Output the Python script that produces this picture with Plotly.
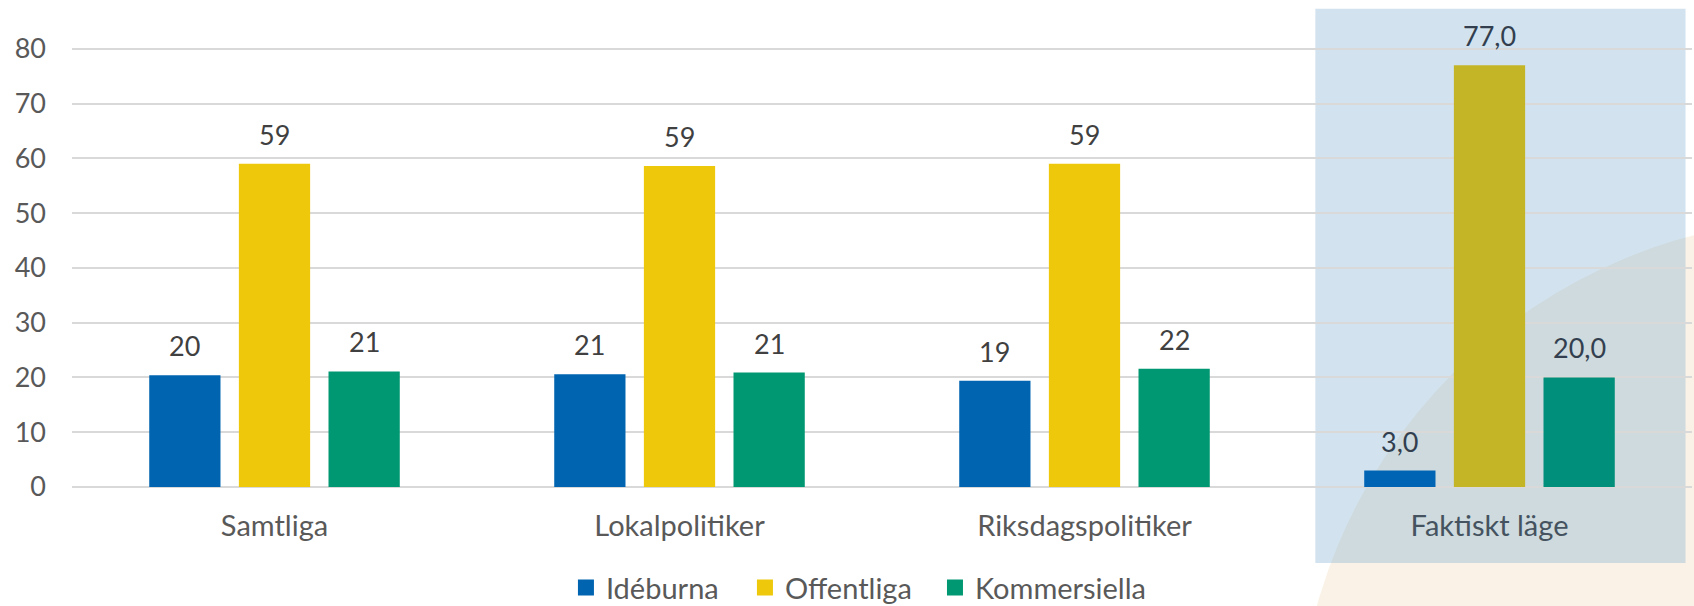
import plotly.graph_objs as go

# categories and series
categories = ['Samtliga', 'Lokalpolitiker', 'Riksdagspolitiker', 'Faktiskt läge']
ideburna = [20.4, 20.6, 19.4, 3.0]
offentliga = [59.0, 58.6, 59.0, 77.0]
kommersiella = [21.1, 20.9, 21.6, 20.0]
label_decimals = [0, 0, 0, 1]
y_ticks = [0, 10, 20, 30, 40, 50, 60, 70, 80]

series = [
	('Idéburna', ideburna, '#0064B0', '#0064B4'),
	('Offentliga', offentliga, '#EEC80A', '#C4B526'),
	('Kommersiella', kommersiella, '#009872', '#008F7A'),
]

font = 'Lato, "Open Sans", sans-serif'
slot_px = 89.6
legend_ids = ['legend', 'legend2', 'legend3']
legend_x = [0.3049, 0.4154, 0.5327]

data = []
annotations = []
for i, (name, values, color, shaded) in enumerate(series):
	colors = [color] * (len(categories) - 1) + [shaded]
	data.append(go.Bar(
		x = categories,
		y = values,
		name = name,
		showlegend = False,
		marker = dict(color = colors, line = dict(width = 0)),
		hoverinfo = 'x+y+name',
	))
	# legend entry only (bigger square than the bar legend symbol)
	data.append(go.Scatter(
		x = [None], y = [None], name = name, mode = 'markers',
		legend = legend_ids[i],
		marker = dict(symbol = 'square', size = 16, color = color, line = dict(width = 0)),
	))
	for j, v in enumerate(values):
		txt = ('%.*f' % (label_decimals[j], v)).replace('.', ',')
		annotations.append(dict(
			x = categories[j], y = v, xref = 'x', yref = 'y',
			text = txt, showarrow = False,
			xshift = (i - 1) * slot_px, yshift = 29.5, yanchor = 'middle',
			font = dict(family = font, size = 27,
				color = '#333F4F' if j == len(categories) - 1 else '#404040'),
		))

tick_text = [c if c != 'Faktiskt läge' else '<span style="color:#45525F">%s</span>' % c
	for c in categories]

shapes = [
	# beige circle in the corner
	dict(type = 'circle', xref = 'paper', yref = 'paper',
		x0 = 0.7562, x1 = 1.4130, y0 = -1.6488, y1 = 0.5587,
		fillcolor = '#FAF2E6', line = dict(width = 0), layer = 'below'),
	# highlight for the actual situation
	dict(type = 'rect', xref = 'paper', yref = 'paper',
		x0 = 0.7675, x1 = 0.996, y0 = -0.1577, y1 = 0.9923,
		fillcolor = 'rgba(105,162,202,0.3)', line = dict(width = 0), layer = 'below'),
]

layout = dict(
	width = 1694, height = 606,
	margin = dict(l = 72, r = 2, t = 5, b = 119, autoexpand = False),
	paper_bgcolor = 'white', plot_bgcolor = 'rgba(0,0,0,0)',
	font = dict(family = font, size = 27, color = '#595959'),
	barmode = 'group', bargap = 0.336, bargroupgap = 0.205,
	xaxis = dict(
		tickvals = categories, ticktext = tick_text,
		showgrid = False, showline = False, zeroline = False,
		ticklabelstandoff = 19, tickfont = dict(size = 29, color = '#595959'),
	),
	yaxis = dict(
		range = [0, 88], tickvals = y_ticks,
		showgrid = True, gridcolor = '#D9D9D9', gridwidth = 1.5,
		zeroline = True, zerolinecolor = '#D9D9D9', zerolinewidth = 1.5,
		showline = False, ticklabelstandoff = 25,
		tickfont = dict(size = 27, color = '#595959'),
	),
	shapes = shapes,
	annotations = annotations,
)
for lid, lx in zip(legend_ids, legend_x):
	layout[lid] = dict(
		orientation = 'h', x = lx, xanchor = 'left', y = -0.209, yanchor = 'middle',
		font = dict(size = 29, color = '#595959'), bgcolor = 'rgba(0,0,0,0)',
	)

fig = go.Figure(data = data, layout = layout)
fig.write_html('out.html', config = {'displayModeBar': False},
	post_script = "document.body.style.margin='0';")
